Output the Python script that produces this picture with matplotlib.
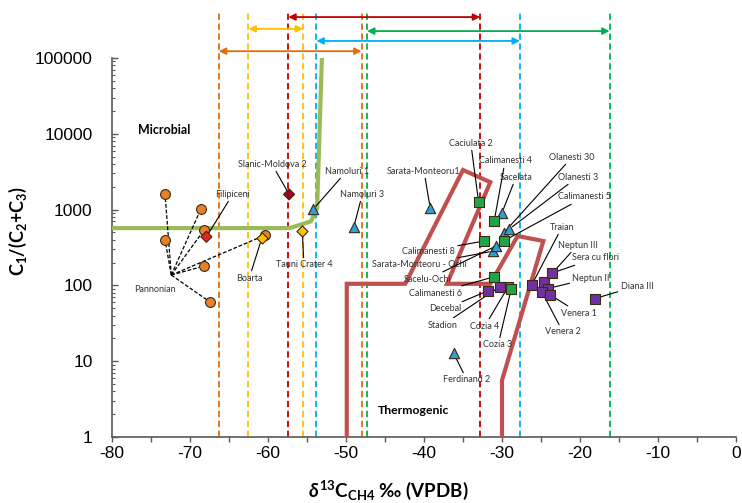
import matplotlib
matplotlib.use("Agg")
import matplotlib.pyplot as plt
import matplotlib.transforms as mtransforms
from matplotlib.ticker import FixedLocator, LogLocator, NullFormatter, MultipleLocator

plt.rcParams["font.family"] = ["Liberation Sans", "DejaVu Sans"]
plt.rcParams["axes.unicode_minus"] = False
plt.rcParams["mathtext.fontset"] = "custom"
plt.rcParams["mathtext.rm"] = "Lato:bold"
plt.rcParams["mathtext.it"] = "Lato:bold:italic"
plt.rcParams["mathtext.bf"] = "Lato:bold"

LABEL_FONT = ["Lato", "DejaVu Sans"]

ORANGE = "#E46C0A"
YELLOW = "#FFC000"
DARKRED = "#C00000"
CYAN = "#00B0F0"
GREEN = "#00B050"

# d13C cut-off lines (dashed) and the ranges drawn between them
cut_x = [-66.3, -62.5, -57.4, -55.5, -53.8, -48.0, -47.3, -32.8, -27.7, -16.2]
cut_colors = [ORANGE, YELLOW, DARKRED, YELLOW, CYAN, ORANGE, GREEN, DARKRED, CYAN, GREEN]
range_lo = [-66.3, -62.5, -57.4, -53.8, -47.3]
range_hi = [-48.0, -55.5, -32.8, -27.7, -16.2]
range_colors = [ORANGE, YELLOW, DARKRED, CYAN, GREEN]
range_level = [1.018, 1.077, 1.108, 1.045, 1.071]  # axes fraction, above plot

# microbial boundary (green curve)
micro_x = [-80, -57.2, -54.5, -53.7, -53.1]
micro_y = [570, 570, 700, 1050, 94000]

# thermogenic field outline
thermo_x = [-49.9, -49.9, -42.4, -35.0, -31.5, -37.05, -31.5, -28.0, -24.7, -30.0, -30.0]
thermo_y = [1, 105, 105, 3330, 2300, 105, 105, 448, 385, 5.6, 1]

# samples
pann_x = [-73.2, -68.6, -68.2, -73.2, -68.2, -67.5, -60.4]
pann_y = [1590, 1020, 537, 398, 180, 61, 459]
pann_hub = (-72.4, 137)

red_names = ["Filipiceni", "Slanic-Moldova 2"]
red_x = [-67.9, -57.3]
red_y = [438, 1590]
red_colors = ["#E3262B", "#A50021"]

yel_names = ["Boarta", "Tauni Crater 4"]
yel_x = [-60.8, -55.6]
yel_y = [418, 523]

tri_names = ["Namoluri 1", "Namoluri 3", "Sarata-Monteoru1", "Sacelata", "Olanesti 30",
             "Olanesti 3", "Sarata-Monteoru - Ochi", "Sacelu-Ochi", "Ferdinand 2"]
tri_x = [-54.2, -49.0, -39.2, -30.0, -29.8, -29.1, -31.1, -30.8, -36.2]
tri_y = [1010, 590, 1040, 910, 490, 550, 284, 330, 12.7]

grn_names = ["Caciulata 2", "Calimanesti 4", "Calimanesti 5", "Calimanesti 8",
             "Calimanesti 6", "Cozia 4", "Cozia 3"]
grn_x = [-33.0, -31.0, -29.8, -32.3, -31.0, -29.2, -28.8]
grn_y = [1260, 710, 385, 385, 130, 96, 91]

pur_names = ["Decebal", "Stadion", "Traian", "Neptun III", "Sera cu flori",
             "Neptun II", "Venera 2", "Venera 1", "Diana III"]
pur_x = [-31.8, -30.3, -26.2, -24.6, -23.6, -24.1, -24.9, -23.8, -18.1]
pur_y = [85, 96, 101, 110, 145, 91, 83, 75, 67]

# label centres (data coords)
label_pos = {
    "Filipiceni": (-64.5, 1600), "Slanic-Moldova 2": (-59.5, 3990),
    "Boarta": (-62.4, 125), "Tauni Crater 4": (-55.4, 186),
    "Namoluri 1": (-49.9, 3230), "Namoluri 3": (-47.9, 1600),
    "Sarata-Monteoru1": (-40.0, 3230), "Sacelata": (-28.2, 2690),
    "Olanesti 30": (-21.0, 4940), "Olanesti 3": (-20.3, 2690),
    "Sarata-Monteoru - Ochi": (-40.6, 186), "Sacelu-Ochi": (-39.5, 121),
    "Ferdinand 2": (-34.5, 5.65), "Caciulata 2": (-34.0, 7560),
    "Calimanesti 4": (-29.6, 4380), "Calimanesti 5": (-19.4, 1467),
    "Calimanesti 8": (-39.4, 284), "Calimanesti 6": (-38.5, 79),
    "Cozia 4": (-32.2, 29.1), "Cozia 3": (-30.5, 16.4),
    "Decebal": (-37.3, 48.9), "Stadion": (-37.6, 30),
    "Traian": (-22.3, 589), "Neptun III": (-20.3, 341),
    "Sera cu flori": (-18.0, 230), "Neptun II": (-18.6, 125),
    "Venera 2": (-22.2, 24.3), "Venera 1": (-20.1, 43), "Diana III": (-12.7, 98),
}

fig = plt.figure(figsize=(7.42, 5.03), dpi=100)
ax = fig.add_axes([112 / 742, 1 - 437 / 503, 624 / 742, 379 / 503])
ax.set_xlim(-80, 0)
ax.set_yscale("log")
ax.set_ylim(1, 100000)

trans = mtransforms.blended_transform_factory(ax.transData, ax.transAxes)
for x, c in zip(cut_x, cut_colors):
    ax.plot([x, x], [0, 1.127], transform=trans, color=c, lw=1.3,
            dashes=(3.5, 2), clip_on=False, zorder=2)
for lo, hi, c, lev in zip(range_lo, range_hi, range_colors, range_level):
    ax.annotate("", xy=(hi, lev), xytext=(lo, lev), xycoords=trans, textcoords=trans,
                annotation_clip=False,
                arrowprops=dict(arrowstyle="<|-|>", color=c, lw=1.3,
                                mutation_scale=10, shrinkA=0, shrinkB=0))

ax.plot(thermo_x, thermo_y, color="#C0504D", lw=3, zorder=3, solid_joinstyle="miter")
ax.plot(micro_x, micro_y, color="#9BBB59", lw=3, zorder=3)

for x, y in zip(pann_x, pann_y):
    ax.plot([pann_hub[0], x], [pann_hub[1], y], color="black", lw=0.9,
            dashes=(3, 1.5), zorder=4)
ax.text(-74.5, 89, "Pannonian", fontsize=6.5, family=LABEL_FONT,
        ha="center", va="center", color="#333333")

mk = dict(edgecolors="#3a2a10", linewidths=0.8, zorder=6)
ax.scatter(pann_x, pann_y, marker="o", s=50, c="#E8822A", **mk)
ax.scatter(red_x, red_y, marker="D", s=32, c=red_colors, **mk)
ax.scatter(yel_x, yel_y, marker="D", s=32, c=YELLOW, **mk)
ax.scatter(tri_x, tri_y, marker="^", s=55, c="#2E9FD8", **mk)
ax.scatter(grn_x, grn_y, marker="s", s=55, c="#1FA64A", **mk)
ax.scatter(pur_x, pur_y, marker="s", s=55, c="#7030A0", **mk)

for names, xs, ys in [(red_names, red_x, red_y), (yel_names, yel_x, yel_y),
                      (tri_names, tri_x, tri_y), (grn_names, grn_x, grn_y),
                      (pur_names, pur_x, pur_y)]:
    for n, x, y in zip(names, xs, ys):
        ax.annotate(n, xy=(x, y), xytext=label_pos[n], fontsize=6.5,
                    family=LABEL_FONT, ha="center", va="center", color="#333333",
                    zorder=5,
                    arrowprops=dict(arrowstyle="-", color="black", lw=0.8,
                                    shrinkA=0, shrinkB=3))

ax.text(-73.3, 11200, "Microbial", fontsize=9, fontweight="bold",
        family=LABEL_FONT, ha="center", va="center")
ax.text(-41.4, 2.27, "Thermogenic", fontsize=8.8, fontweight="bold",
        family=LABEL_FONT, ha="center", va="center")

for s in ["top", "right"]:
    ax.spines[s].set_visible(False)
for s in ["left", "bottom"]:
    ax.spines[s].set_color("#595959")
    ax.spines[s].set_linewidth(1.2)

ax.xaxis.set_major_locator(MultipleLocator(10))
ax.xaxis.set_minor_locator(MultipleLocator(5))
ax.tick_params(axis="x", which="both", direction="out", length=3.6, width=1,
               color="#595959", labelsize=12.5, pad=3)
ax.yaxis.set_major_locator(FixedLocator([1, 10, 100, 1000, 10000, 100000]))
ax.set_yticklabels(["1", "10", "100", "1000", "10000", "100000"])
ax.yaxis.set_minor_locator(LogLocator(base=10, subs=range(2, 10)))
ax.yaxis.set_minor_formatter(NullFormatter())
ax.tick_params(axis="y", which="major", direction="in", length=4, width=1,
               color="#595959", labelsize=12.5, pad=14)
ax.tick_params(axis="y", which="minor", direction="in", length=2.5, width=0.8,
               color="#595959")

fig.text(18 / 742, 1 - 231 / 503, r"C$_1$/(C$_2$+C$_3$)", rotation=90,
         fontsize=13, fontweight="bold", family=LABEL_FONT, ha="center", va="center")
fig.text(388 / 742, 1 - 490 / 503, r"$\delta^{13}$C$_{\mathrm{CH4}}$ ‰ (VPDB)",
         fontsize=13.5, fontweight="bold", family=LABEL_FONT, ha="center", va="center")

fig.savefig("out.png", dpi=100)
